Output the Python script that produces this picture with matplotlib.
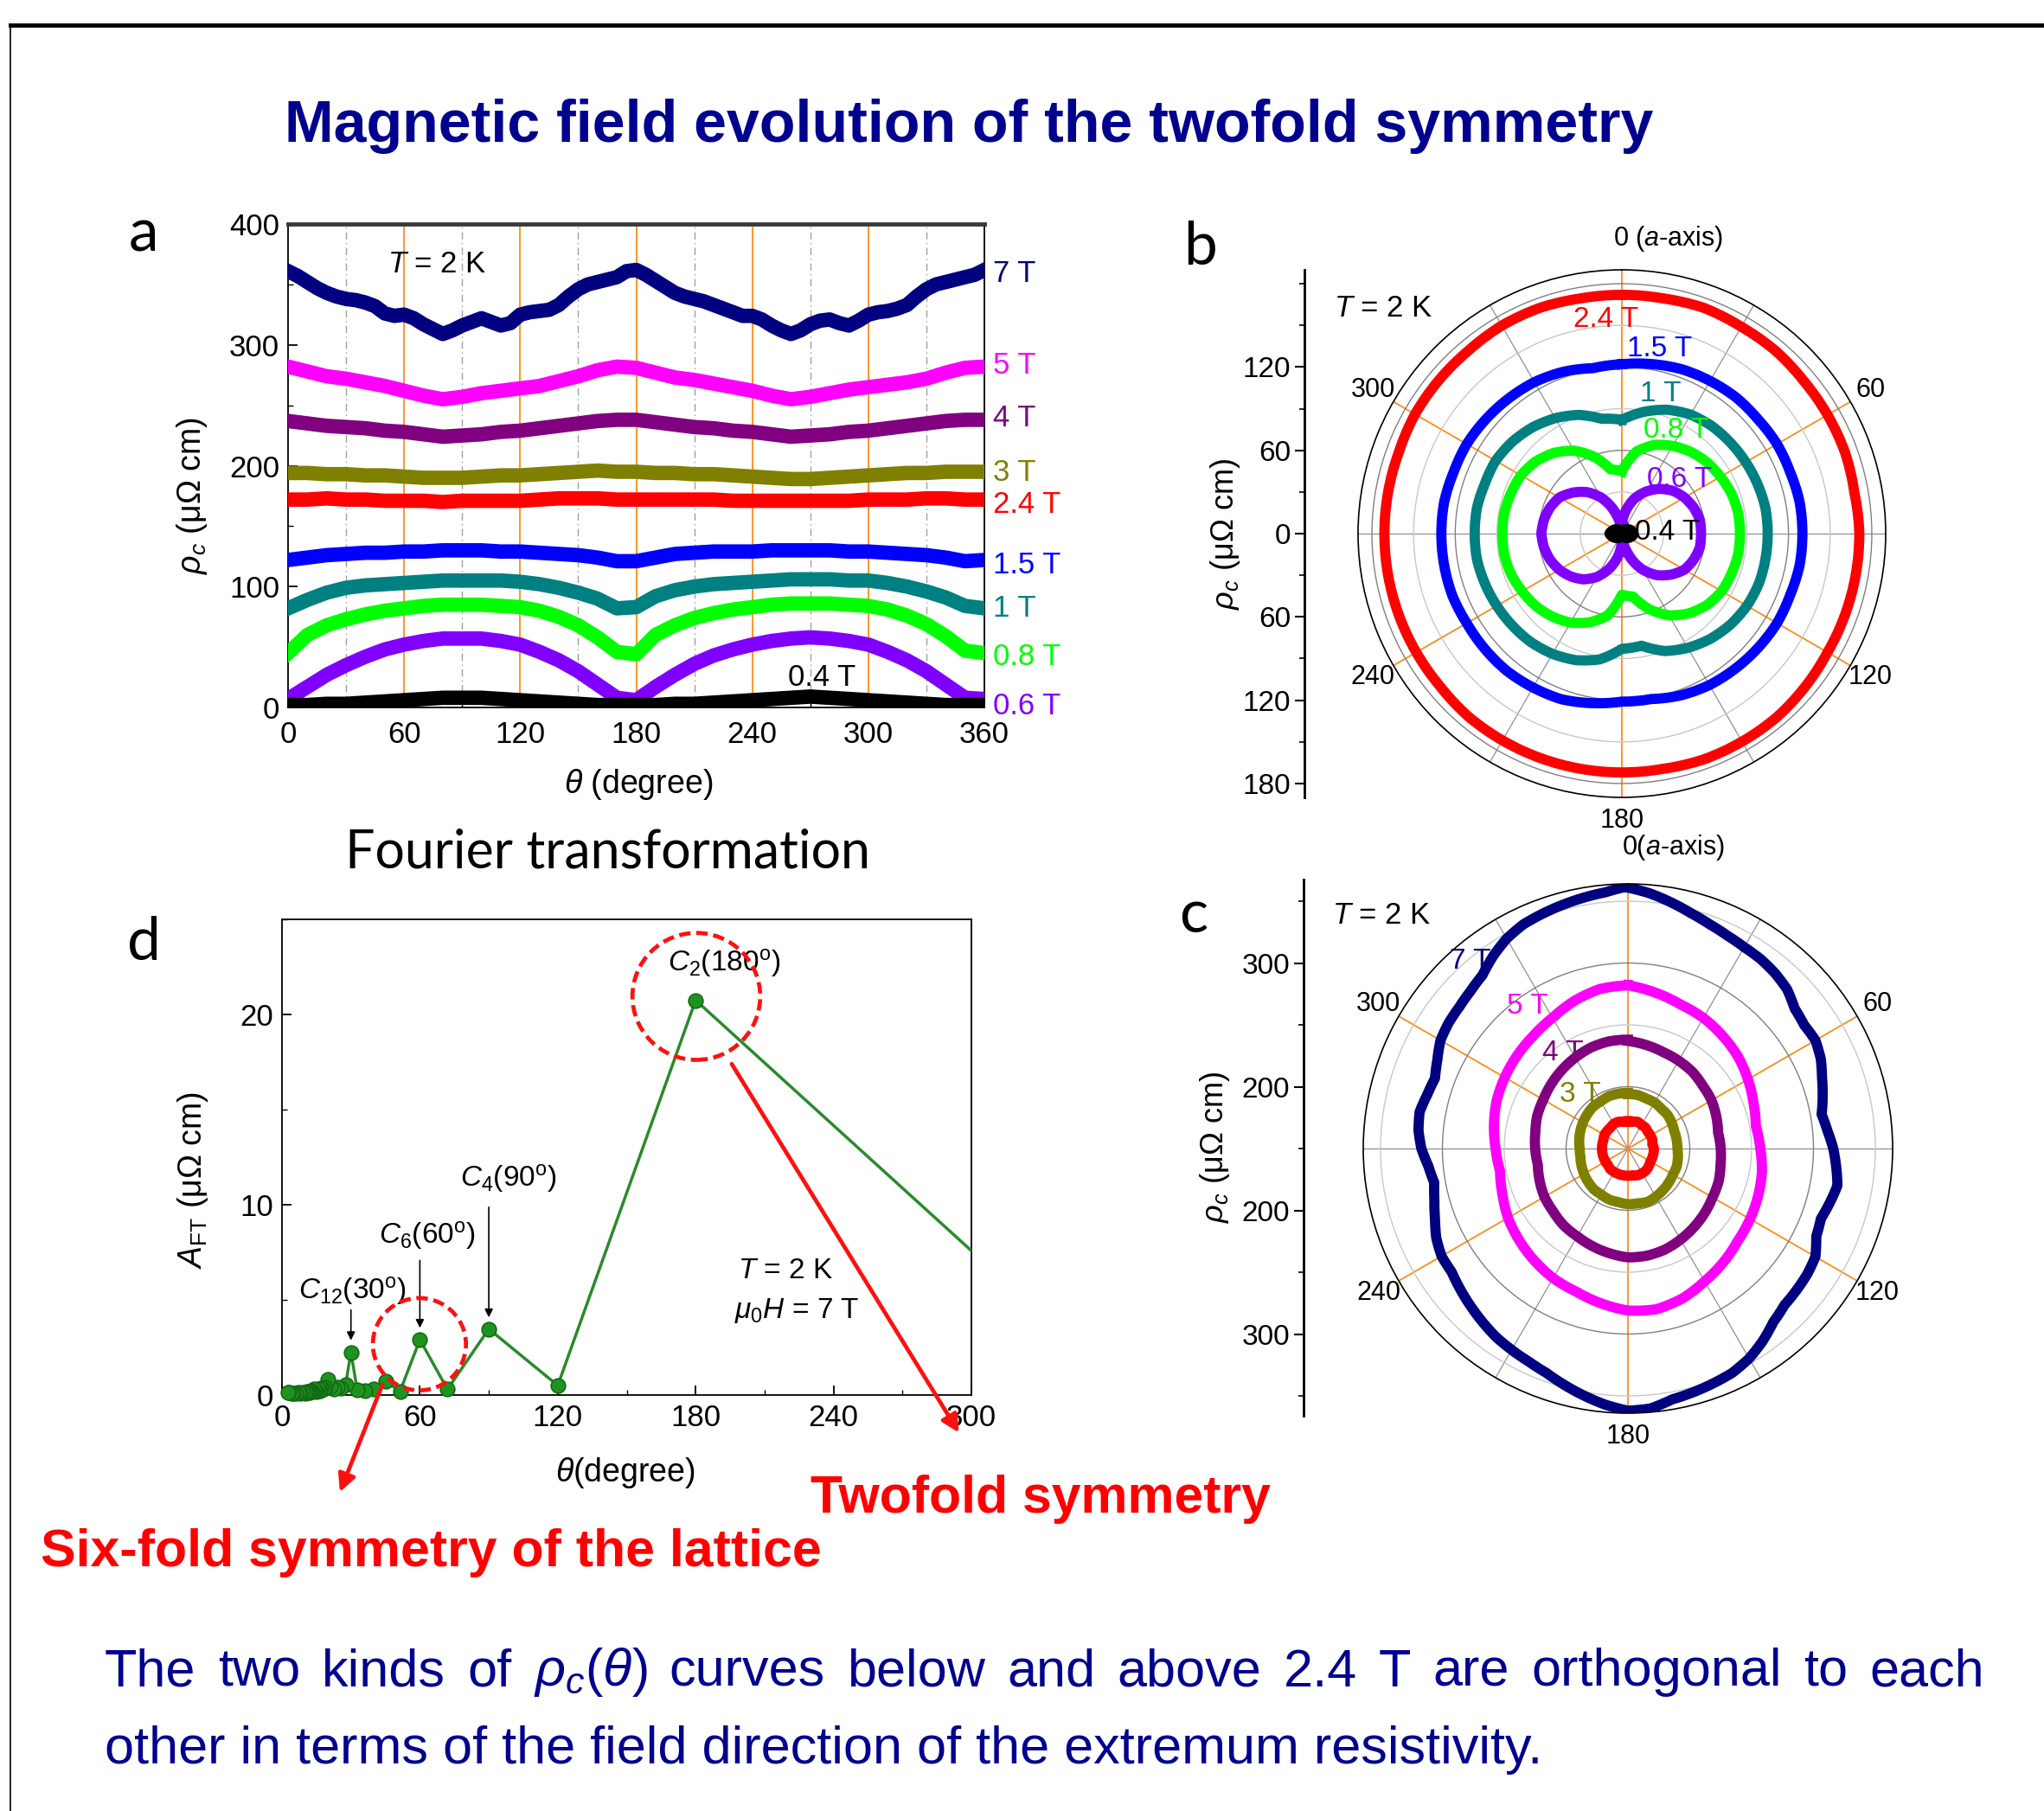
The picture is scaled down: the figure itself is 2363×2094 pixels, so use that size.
import numpy as np
import matplotlib
matplotlib.use('Agg')
import matplotlib.pyplot as plt
from matplotlib.patches import Ellipse
from matplotlib.lines import Line2D
from matplotlib.ticker import MultipleLocator
from matplotlib.transforms import blended_transform_factory

# ---- data ------------------------------------------------------------------
ang10 = list(range(0, 361, 10))
ang5 = list(range(0, 361, 5))

rho_7T = [361, 357, 352, 347, 343, 340, 338, 337, 335, 332, 326, 324,
          325, 322, 317, 313, 309, 312, 316, 319, 322, 319, 316, 318,
          325, 327, 328, 329, 333, 340, 346, 350, 352, 354, 356, 361,
          362, 358, 353, 348, 343, 340, 338, 336, 333, 330, 327, 324,
          324, 321, 316, 312, 309, 312, 317, 320, 321, 318, 316, 320,
          325, 327, 328, 330, 333, 340, 346, 350, 352, 354, 356, 358,
          362]
rho_5T = [282, 278, 274, 272, 269, 266, 262, 258, 255, 257, 260, 262,
          264, 266, 270, 274, 279, 282, 281, 277, 273, 271, 268, 265,
          262, 258, 255, 257, 260, 263, 265, 267, 269, 272, 277, 281,
          282]
rho_4T = [237, 235, 233, 232, 231, 229, 228, 226, 224, 225, 226, 228,
          229, 231, 233, 235, 237, 238, 238, 236, 234, 232, 231, 229,
          228, 226, 224, 225, 226, 228, 229, 231, 233, 235, 237, 238,
          238]
rho_3T = [194, 194, 193, 193, 192, 192, 191, 190, 190, 190, 191, 192,
          192, 193, 194, 195, 196, 195, 195, 194, 194, 193, 193, 192,
          191, 190, 189, 189, 190, 191, 192, 193, 194, 194, 195, 195,
          195]
rho_24T = [172, 172, 173, 172, 172, 171, 171, 171, 170, 171, 171, 171,
           171, 172, 173, 173, 173, 172, 172, 172, 172, 172, 172, 171,
           171, 171, 171, 171, 171, 171, 172, 172, 172, 173, 173, 172,
           172]
rho_15T = [122, 124, 126, 127, 128, 128, 129, 129, 130, 130, 130, 129,
           129, 128, 127, 126, 124, 121, 121, 124, 127, 128, 129, 129,
           129, 130, 130, 130, 130, 129, 129, 128, 127, 126, 124, 121,
           122]
rho_1T = [82, 89, 95, 99, 101, 102, 103, 104, 105, 105, 105, 105,
          104, 102, 99, 95, 90, 82, 83, 92, 97, 100, 102, 103,
          104, 105, 106, 106, 106, 105, 105, 103, 100, 96, 91, 84,
          82]
rho_08T = [45, 60, 68, 73, 77, 80, 82, 84, 85, 85, 85, 84,
           83, 80, 75, 68, 58, 46, 44, 60, 68, 74, 78, 81,
           83, 85, 86, 86, 86, 85, 84, 81, 76, 69, 59, 47,
           45]
rho_06T = [7, 17, 27, 35, 42, 48, 52, 55, 57, 57, 57, 55,
           52, 46, 39, 30, 19, 8, 6, 17, 27, 36, 43, 48,
           52, 55, 57, 58, 57, 55, 52, 46, 39, 30, 19, 8,
           7]
rho_04T = [2, 2, 3, 3, 4, 5, 6, 7, 8, 8, 8, 7,
           6, 5, 4, 3, 2, 2, 2, 2, 3, 3, 4, 5,
           6, 7, 8, 9, 8, 7, 6, 5, 4, 3, 2, 2,
           2]

# Fourier amplitudes vs period
ft_period = [360, 180, 120, 90, 72, 60, 51.4, 45, 40, 36, 32.7, 30,
             27.7, 25.7, 24, 22.5, 21.2, 20, 18.9, 18, 17.1, 16.4, 15.7, 15,
             14.4, 13.8, 13.3, 12.9, 12.4, 12, 11.6, 11.3, 10.9, 10.6, 10.3, 10,
             9, 8, 7, 6, 5, 4, 3, 2.5]
ft_amp = [1.0, 20.75, 0.5, 3.47, 0.3, 2.91, 0.2, 0.72, 0.3, 0.25, 0.28, 2.25,
          0.55, 0.35, 0.4, 0.3, 0.45, 0.8, 0.4, 0.3, 0.35, 0.25, 0.3, 0.2,
          0.25, 0.3, 0.2, 0.25, 0.2, 0.15, 0.2, 0.15, 0.2, 0.15, 0.1, 0.15,
          0.12, 0.1, 0.12, 0.1, 0.1, 0.1, 0.12, 0.15]

fields_a = ['7 T', '5 T', '4 T', '3 T', '2.4 T', '1.5 T', '1 T', '0.8 T', '0.6 T']
fields_low = ['2.4 T', '1.5 T', '1 T', '0.8 T', '0.6 T', '0.4 T']
fields_high = ['7 T', '5 T', '4 T', '3 T', '2.4 T']

curves = {'7 T': (ang5, rho_7T), '5 T': (ang10, rho_5T), '4 T': (ang10, rho_4T),
          '3 T': (ang10, rho_3T), '2.4 T': (ang10, rho_24T), '1.5 T': (ang10, rho_15T),
          '1 T': (ang10, rho_1T), '0.8 T': (ang10, rho_08T), '0.6 T': (ang10, rho_06T),
          '0.4 T': (ang10, rho_04T)}
colors = {'7 T': '#000080', '5 T': '#ff00ff', '4 T': '#800080', '3 T': '#808000',
          '2.4 T': '#ff0000', '1.5 T': '#0000ff', '1 T': '#008080', '0.8 T': '#00ff00',
          '0.6 T': '#8000ff', '0.4 T': '#000000'}

# ---- figure ---------------------------------------------------------------
W, H = 2363, 2094
AXF = ['Liberation Sans', 'DejaVu Sans']
NARROW = ['Liberation Sans', 'DejaVu Sans']
CAL = ['Lato', 'DejaVu Sans']
BLUE = '#00008f'
ORANGE = '#ff8c1a'

plt.rcParams['font.family'] = AXF
plt.rcParams['mathtext.fontset'] = 'custom'
plt.rcParams['mathtext.rm'] = 'Liberation Sans'
plt.rcParams['mathtext.it'] = 'Liberation Sans:italic'
plt.rcParams['mathtext.bf'] = 'Liberation Sans:bold'

fig = plt.figure(figsize=(W / 100, H / 100), dpi=100)
renderer = fig.canvas.get_renderer()


def box(l, t, r, b):
    return [l / W, 1 - b / H, (r - l) / W, (b - t) / H]


def ftext(x, y, s, **kw):
    return fig.text(x / W, 1 - y / H, s, **kw)


def fit(t, width):
    w = t.get_window_extent(renderer).width
    t.set_fontsize(t.get_fontsize() * width / w)
    return t


# slide frame
fig.add_artist(Line2D([12 / W, 1], [1 - 29 / H, 1 - 29 / H], lw=3.5, color='black'))
fig.add_artist(Line2D([12 / W, 12 / W], [0, 1 - 29 / H], lw=1.2, color='black'))

# title
fit(ftext(329, 146, 'Magnetic field evolution of the twofold symmetry', family=NARROW,
          weight='bold', color=BLUE, fontsize=60, va='center'), 1582)

# ---- panel a ----------------------------------------------------------------
ax = fig.add_axes(box(333, 259, 1138, 818))
for x in [60, 120, 180, 240, 300]:
    ax.axvline(x, color=ORANGE, lw=1.3, zorder=1)
for x in [30, 90, 150, 210, 270, 330]:
    ax.axvline(x, color='#a0a0a0', lw=1.0, ls=(0, (6, 3, 1, 3)), zorder=1)
for f in fields_a[::-1] + ['0.4 T']:
    th, r = curves[f]
    ax.plot(th, r, color=colors[f], lw=12, solid_joinstyle='round', zorder=3)
ax.set_xlim(0, 360)
ax.set_ylim(0, 400)
ax.xaxis.set_major_locator(MultipleLocator(60))
ax.xaxis.set_minor_locator(MultipleLocator(30))
ax.yaxis.set_major_locator(MultipleLocator(100))
ax.yaxis.set_minor_locator(MultipleLocator(50))
ax.tick_params(direction='in', labelsize=25, length=8, width=1.3, pad=7)
ax.tick_params(axis='x', pad=11)
ax.tick_params(which='minor', direction='in', length=4, width=1)
for s in ax.spines.values():
    s.set_linewidth(1.3)
ax.spines['top'].set_linewidth(3.5)
ax.spines['top'].set_color('#3a3a3a')
lab_y = [359, 283, 239, 194, 168, 118, 82, 42, 1]
tr = blended_transform_factory(ax.transAxes, ax.transData)
for f, y in zip(fields_a, lab_y):
    ax.text(1.012, y, f, transform=tr, color=colors[f], fontsize=25, va='center',
            ha='left', clip_on=False)
ax.text(276, 25, '0.4 T', fontsize=25, ha='center', va='center', zorder=5)
ax.text(77, 367, r'$T$ = 2 K', fontsize=25, ha='center', va='center')
ftext(222, 573, r'$\rho_c$ (μΩ cm)', rotation=90, fontsize=27, ha='center', va='center')
ftext(738, 907, r'$\theta$ (degree)', fontsize=27, ha='center', va='center')
ftext(166, 271, 'a', family=CAL, fontsize=50, ha='center', va='center')

# ---- polar helper --------------------------------------------------------------
def polar_panel(pbox, rmin, rmax, rings, fields):
    p = fig.add_axes(pbox, projection='polar')
    p.set_theta_zero_location('N')
    p.set_theta_direction(-1)
    p.set_axisbelow(True)
    for f in fields:
        th, r = curves[f]
        ln, = p.plot(np.deg2rad(th), r, color=colors[f], lw=8.5, solid_joinstyle='round')
        ln.get_path()._interpolation_steps = 12  # draw segments as smooth polar arcs
    p.set_ylim(rmin, rmax)
    labels = ['', '', '60', '', '120', '', '180', '', '240', '', '300', '']
    p.set_thetagrids(range(0, 360, 30), labels)
    for i, gl in enumerate(p.xaxis.get_gridlines()):
        gl.set_color(ORANGE if i % 2 == 0 else '#909090')
        gl.set_linewidth(1.3 if i % 2 == 0 else 0.9)
        gl.set_linestyle('-')
    p.set_rgrids(rings, labels=[''] * len(rings))
    for i, gl in enumerate(p.yaxis.get_gridlines()):
        gl.set_color('#c8c8c8' if i % 2 == 0 else '#808080')
        gl.set_linewidth(1.0)
        gl.set_linestyle('-')
    p.tick_params(axis='x', labelsize=22, pad=9)
    p.spines['polar'].set_linewidth(1.2)
    return p


def side_axis(abox, lim, ticks, labels, minor):
    a = fig.add_axes(abox)
    a.set_ylim(*lim)
    a.patch.set_visible(False)
    for s in ['top', 'right', 'bottom']:
        a.spines[s].set_visible(False)
    a.spines['left'].set_linewidth(2)
    a.set_xticks([])
    a.set_yticks(ticks)
    a.set_yticklabels(labels)
    a.set_yticks(minor, minor=True)
    a.tick_params(axis='y', direction='out', labelsize=24, length=8, width=1.5)
    a.tick_params(axis='y', which='minor', direction='out', length=4, width=1.2)
    return a


# ---- panel b ----------------------------------------------------------------
pb = polar_panel(box(1570, 312, 2180, 922), 0, 190, [30, 60, 90, 120, 150, 180],
                 fields_low)
side_axis(box(1508, 312, 1512, 922), (-190, 190), [-180, -120, -60, 0, 60, 120],
          ['180', '120', '60', '0', '60', '120'], [-150, -90, -30, 30, 90, 150, 180])
ftext(1417, 617, r'$\rho_c$ (μΩ cm)', rotation=90, fontsize=26, ha='center', va='center')
ftext(1929, 276, r'0 ($a$-axis)', fontsize=22, ha='center', va='center')
ftext(1599, 357, r'$T$ = 2 K', fontsize=25, ha='center', va='center')
ftext(1388, 286, 'b', family=CAL, fontsize=50, ha='center', va='center')
b_lab = [(1857, 370), (1919, 404), (1920, 455), (1938, 497), (1942, 554), (1928, 615)]
for f, (x, y) in zip(fields_low, b_lab):
    ftext(x, y, f, color=colors[f], fontsize=24, ha='center', va='center')

# ---- panel c ----------------------------------------------------------------
pc = polar_panel(box(1576, 1022, 2188, 1634), 150, 364, [200, 250, 300, 350],
                 fields_high)
for i, gl in enumerate(pc.yaxis.get_gridlines()):
    gl.set_color('#808080' if i % 2 == 0 else '#c8c8c8')
side_axis(box(1507, 1017, 1511, 1637), (-216, 217.5), [-150, -50, 50, 150],
          ['300', '200', '200', '300'], [-200, -100, 0, 100, 200])
ftext(1405, 1326, r'$\rho_c$ (μΩ cm)', rotation=90, fontsize=26, ha='center', va='center')
ftext(1934, 980, r'0($a$-axis)', fontsize=22, ha='center', va='center')
ftext(1597, 1058, r'$T$ = 2 K', fontsize=25, ha='center', va='center')
ftext(1380, 1059, 'c', family=CAL, fontsize=50, ha='center', va='center')
c_lab = [(1700, 1112), (1766, 1164), (1807, 1218), (1827, 1265)]
for f, (x, y) in zip(fields_high, c_lab):
    ftext(x, y, f, color=colors[f], fontsize=24, ha='center', va='center')

# ---- panel d ----------------------------------------------------------------
fit(ftext(399, 986, 'Fourier transformation', family=CAL, fontsize=40, va='center'), 607)
ftext(166, 1091, 'd', family=CAL, fontsize=50, ha='center', va='center')
ad = fig.add_axes(box(326, 1063, 1123, 1613))
ad.plot(ft_period, ft_amp, color='#2a8a2a', lw=2.5, zorder=3)
ad.plot(ft_period, ft_amp, ls='none', marker='o', ms=12, mfc='#1f931f', mec='#136b13',
        mew=1.2, markevery=slice(1, None), clip_on=False, zorder=4)
ad.set_xlim(0, 300)
ad.set_ylim(0, 25)
ad.xaxis.set_major_locator(MultipleLocator(60))
ad.xaxis.set_minor_locator(MultipleLocator(30))
ad.yaxis.set_major_locator(MultipleLocator(10))
ad.yaxis.set_minor_locator(MultipleLocator(5))
ad.tick_params(direction='in', labelsize=25, length=8, width=1.3, pad=7)
ad.tick_params(which='minor', direction='in', length=4, width=1)
for s in ad.spines.values():
    s.set_linewidth(1.3)
ftext(223, 1364, r'$A_{\rm FT}$ (μΩ cm)', rotation=90, fontsize=27, ha='center', va='center')
ftext(723, 1703, r'$\theta$(degree)', fontsize=27, ha='center', va='center')

ad.text(192.5, 22.7, r'$C_2$(180$^{\rm o}$)', fontsize=24, ha='center', va='center')
ad.text(98.5, 11.4, r'$C_4$(90$^{\rm o}$)', fontsize=24, ha='center', va='center')
ad.text(63, 8.4, r'$C_6$(60$^{\rm o}$)', fontsize=24, ha='center', va='center')
ad.text(30.6, 5.5, r'$C_{12}$(30$^{\rm o}$)', fontsize=24, ha='center', va='center')
ad.text(198.5, 6.5, r'$T$ = 2 K', fontsize=24, ha='left', va='center')
ad.text(197, 4.45, r'$\mu_0H$ = 7 T', fontsize=24, ha='left', va='center')
for x, y0, y1 in [(90, 10.0, 3.95), (60, 7.2, 3.4), (30, 4.6, 2.75)]:
    ad.annotate('', xy=(x, y1), xytext=(x, y0),
                arrowprops=dict(arrowstyle='-|>', color='black', lw=1.2, mutation_scale=14))

for cx, cy, w, h in [(180.3, 20.95, 55.6, 6.67), (59.8, 2.67, 40.5, 4.85)]:
    ad.add_patch(Ellipse((cx, cy), w, h, fill=False, ec='#ff1010', lw=3.4,
                         ls=(0, (2.8, 1.4)), clip_on=False, zorder=6))
for (x0, y0), (x1, y1) in [((43.7, 0.55), (25.2, -5.1)), ((195.7, 17.4), (294.6, -1.98))]:
    ad.annotate('', xy=(x1, y1), xytext=(x0, y0), annotation_clip=False,
                arrowprops=dict(arrowstyle='-|>', color='#ff1010', lw=3.4,
                                mutation_scale=30, shrinkA=0, shrinkB=0), zorder=6)

fit(ftext(937, 1733, 'Twofold symmetry', family=NARROW, weight='bold', color='#ff0000',
          fontsize=50, va='center'), 532)
fit(ftext(47, 1796, 'Six-fold symmetry of the lattice', family=NARROW, weight='bold',
          color='#ff0000', fontsize=50, va='center'), 904)

# ---- bottom sentence (justified first line) ------------------------------------
line2 = fit(ftext(121, 2024, 'other in terms of the field direction of the extremum resistivity.',
                  family=NARROW, color=BLUE, fontsize=50, va='center'), 1662)
fs = line2.get_fontsize()
words1 = ['The', 'two', 'kinds', 'of', r'$\rho_c(\theta)$', 'curves', 'below', 'and',
          'above', '2.4', 'T', 'are', 'orthogonal', 'to', 'each']
wt = [ftext(121, 1934, w, family=NARROW, color=BLUE, fontsize=fs, va='center') for w in words1]
widths = [t.get_window_extent(renderer).width for t in wt]
gap = (2173 - sum(widths)) / (len(wt) - 1)
x = 121
for t, w in zip(wt, widths):
    t.set_x(x / W)
    x += w + gap

fig.savefig('out.png', dpi=100)
